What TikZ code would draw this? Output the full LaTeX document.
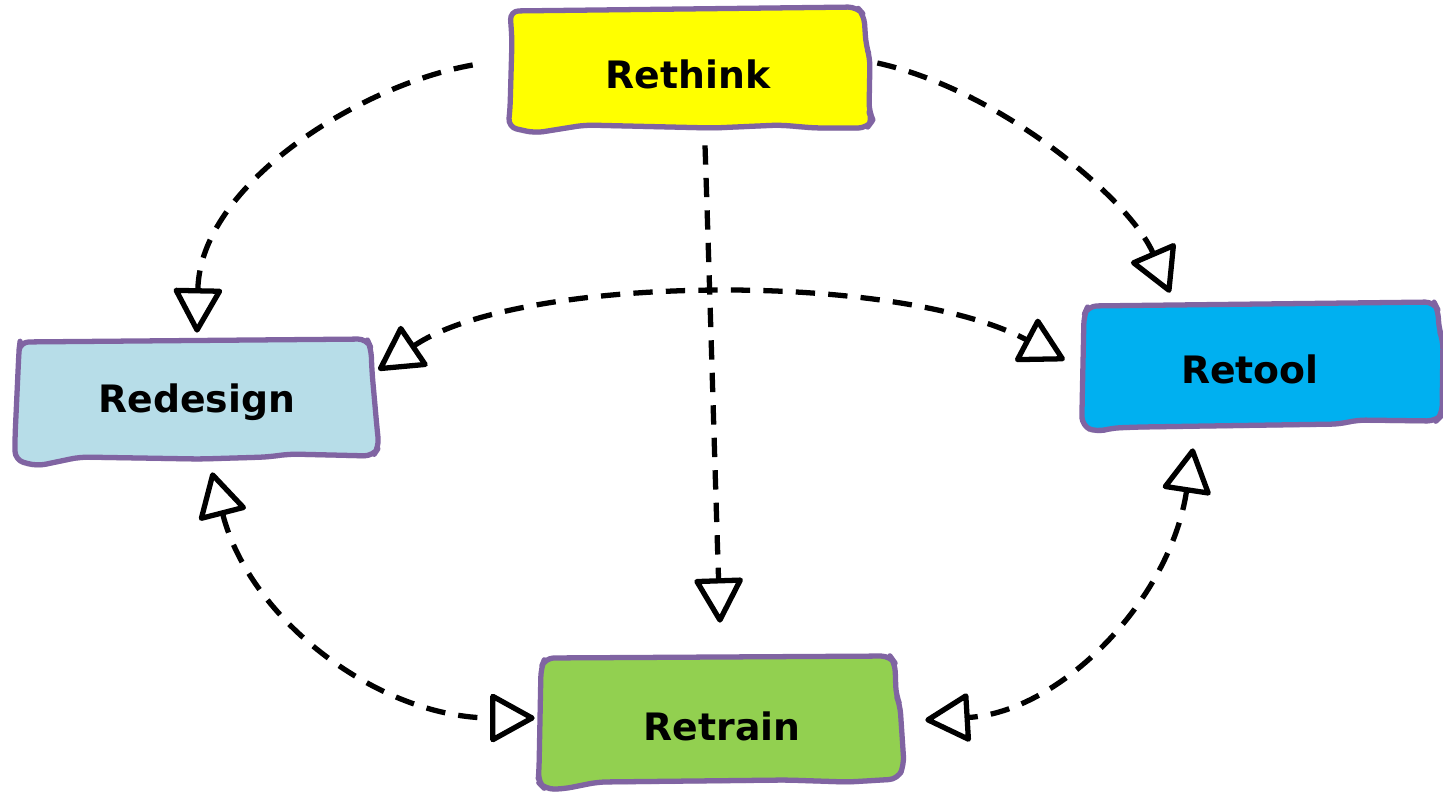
\documentclass[tikz,border=0pt]{standalone}
\usepackage{fontspec}
\setmainfont{DejaVu Sans}
\usepackage{xcolor}
\usepackage{tikz}
\usetikzlibrary{calc,arrows.meta,shadows}

\definecolor{boxedge}{HTML}{8064A2}
\definecolor{thinkfill}{HTML}{FFFF00}
\definecolor{designfill}{HTML}{B7DDE8}
\definecolor{toolfill}{HTML}{00B0F0}
\definecolor{trainfill}{HTML}{92D050}

\tikzset{
  sketch/.style={draw=boxedge,line width=3pt,rounded corners=5pt,line join=round,
    drop shadow={shadow xshift=-0.6pt,shadow yshift=-1.6pt,opacity=0.25}},
  card/.style={minimum width=7.2cm,minimum height=2.4cm,inner sep=0pt,
    font=\bfseries\fontsize{21.5}{25}\selectfont},
  link/.style={line width=3pt,dash pattern=on 11pt off 7.5pt,
    >={Triangle[open,length=27pt,width=29pt,round]}}
}

\begin{document}
\begin{tikzpicture}[x=0.02cm,y=-0.02cm]

\useasboundingbox (0,0) rectangle (1443,795);

% hand drawn boxes
\path[sketch,fill=thinkfill] (510,11) -- (857,7) -- (864,15) -- (866,45) -- (870,58) -- (869,112) -- (873,120) -- (867,128) -- (815,128) -- (780,125) -- (713,128) -- (585,125) -- (535,133) -- (508,127) -- (510,110) -- (512,40) -- cycle;
\path[sketch,fill=designfill] (20,342) -- (367,339) -- (371,348) -- (372,372) -- (377,428) -- (379,447) -- (373,456) -- (290,454) -- (267,457) -- (200,459) -- (80,457) -- (37,466) -- (15,460) -- (15,437) -- (19,350) -- cycle;
\path[sketch,fill=toolfill] (1088,306) -- (1434,302) -- (1438,310) -- (1439,330) -- (1443,340) -- (1442,415) -- (1436,421) -- (1357,420) -- (1340,424) -- (1140,427) -- (1112,428) -- (1097,432) -- (1082,426) -- (1082,410) -- (1084,315) -- cycle;
\path[sketch,fill=trainfill] (545,658) -- (890,656) -- (895,663) -- (896,695) -- (900,705) -- (904,765) -- (898,779) -- (848,782) -- (787,780) -- (598,782) -- (563,789) -- (545,789) -- (538,782) -- (539,770) -- (541,668) -- cycle;

% labels
\node[card] (rethink) at (688,74) {Rethink};
\node[card] (redesign) at (197,402) {Redesign};
\node[card] (retool) at (1250,369) {Retool};
\node[card] (retrain) at (722,726) {Retrain};

% from rethink
\draw[link,->] ($(rethink.west)+(-35,-9)$) .. controls +(-113,20) and +(3,-148) .. ($(redesign.north)+(0,-9)$);
\draw[link,->] ($(rethink.east)+(9,-11)$) .. controls +(123,27) and +(-40,-93) .. ($(retool.north)+(-80,-16)$);
\draw[link,->] ($(rethink.south)+(17,11)$) .. controls +(5,150) and +(-5,-150) .. ($(retrain.north)+(-2,-43)$);

% both ways
\draw[link,<->] ($(redesign.east)+(1,-32)$) .. controls +(140,-95) and +(-170,-90) .. ($(retool.west)+(-5,-9)$);
\draw[link,<->] ($(redesign.south)+(15,10)$) .. controls +(38,148) and +(-155,0) .. ($(retrain.west)+(-7,-8)$);
\draw[link,<->] ($(retool.south)+(-57,19)$) .. controls +(-23,152) and +(135,-8) .. ($(retrain.east)+(23,-6)$);

\end{tikzpicture}
\end{document}
